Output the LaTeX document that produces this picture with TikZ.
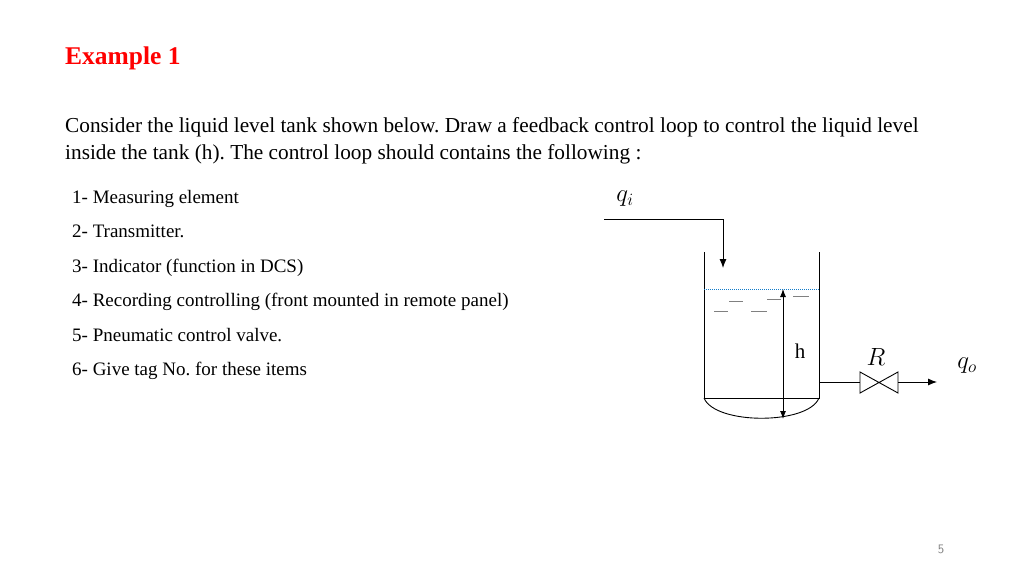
\documentclass[tikz,border=0pt]{standalone}
\usepackage{fontspec}
\setmainfont{Liberation Serif}
\usetikzlibrary{arrows.meta,positioning}
\frenchspacing
\begin{document}
\begin{tikzpicture}[x=1pt,y=-1pt,
  txt/.style={anchor=base west,inner sep=0pt,font=\fontsize{21.3}{24}\selectfont},
  item/.style={anchor=base west,inner sep=0pt,font=\fontsize{19}{22}\selectfont},
  pipe/.style={draw,line width=0.9pt},
  flow/.style={pipe,-{Latex[length=9pt,width=7pt]}},
  ripple/.style={draw=gray,line width=1pt}
  ]
  \useasboundingbox (0,0) rectangle (1024,575);

  % Titel und Aufgabe
  \node[anchor=base west,inner sep=0pt,text=red,font=\fontsize{25.5}{28}\selectfont\bfseries] (title) at (65,65) {Example 1};
  \node[txt] (line1) at (65,132) {Consider the liquid level tank shown below. Draw a feedback control loop to control the liquid level};
  \node[txt] (line2) at (65,159) {inside the tank (h). The control loop should contains the following :};

  % Liste
  \foreach \t [count=\i] in {1- Measuring element,2- Transmitter.,3- Indicator (function in DCS),4- Recording controlling (front mounted in remote panel),5- Pneumatic control valve.,6- Give tag No. for these items}
    \node[item] (item\i) at (72,{203.5+34.4*(\i-1)}) {\t};

  % Tank
  \coordinate (tl) at (704,252);
  \coordinate (tr) at (819,252);
  \coordinate (bl) at (704,398);
  \coordinate (br) at (819,398);
  \draw[pipe] (tl) -- (bl) -- (br) -- (tr);
  \draw[pipe] (bl) .. controls (715,425) and (808,425) .. (br);
  \draw[densely dotted,draw=cyan!60!blue,line width=1pt] (704,289) -- (819,289);
  \draw[ripple] (714,311) -- (728,311) (729,301) -- (743,301) (751,311) -- (767,311)
    (767,299) -- (781,299) (793,296) -- (809,296);

  % Zulauf
  \coordinate (in0) at (604,219);
  \coordinate (in1) at (723,268);
  \draw[flow] (in0) -| (in1);
  \node[font=\fontsize{26}{28}\selectfont] (qi) at (625,199) {$q_i$};

  % Hoehe
  \coordinate (htop) at (783,289);
  \coordinate (hbot) at (783,419);
  \draw[pipe,{Latex[length=8pt,width=6pt]}-{Latex[length=8pt,width=6pt]}] (htop) -- (hbot);
  \node[font=\fontsize{21}{24}\selectfont] (h) at (800,351) {h};

  % Ventil und Ablauf
  \coordinate (out) at (819,382);
  \coordinate (vl) at (860,382);
  \coordinate (vr) at (898,382);
  \coordinate (end) at (937,382);
  \draw[pipe] (out) -- (vl);
  \draw[pipe] (860,372) -- (898,393) -- (898,372) -- (860,393) -- cycle;
  \draw[flow] (vr) -- (end);
  \node[font=\fontsize{24}{26}\selectfont] (R) at (876,357) {$R$};
  \node[font=\fontsize{26}{28}\selectfont] (qo) at (967,366) {$q_o$};

  % Seitenzahl
  \node[text=gray,font=\fontsize{13}{14}\selectfont\sffamily] (page) at (941,549) {5};
\end{tikzpicture}
\end{document}
